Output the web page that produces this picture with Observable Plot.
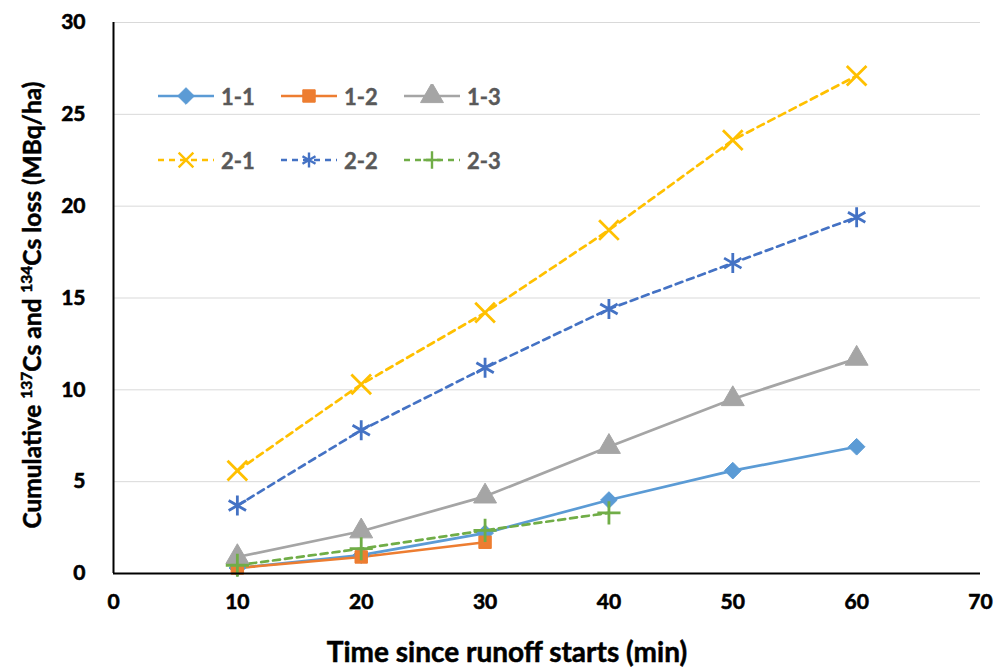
<!DOCTYPE html>
<html>
<head>
<meta charset="utf-8">
<script src="https://cdn.jsdelivr.net/npm/d3@7"></script>
<script src="https://cdn.jsdelivr.net/npm/@observablehq/plot@0.6"></script>
<style>
  html, body { margin: 0; padding: 0; background: #fff; }
  #wrap { position: relative; width: 1002px; height: 668px; font-family: Lato, "Open Sans", sans-serif; }
  #legend { position: absolute; left: 157px; top: 82px; }
  .lrow { display: flex; height: 28px; margin-bottom: 36px; }
  .litem { display: flex; align-items: center; width: 123px; }
  .litem span { font-weight: bold; font-size: 22px; color: #595959; margin-left: 6px; -webkit-text-stroke: 0.4px #595959; }
</style>
</head>
<body>
<div id="wrap"></div>
<script>
const times = [10, 20, 30, 40, 50, 60];
const seriesNames = ["1-1", "1-2", "1-3", "2-1", "2-2", "2-3"];
const s11 = [0.3, 1.0, 2.2, 4.0, 5.6, 6.9];
const s12 = [0.3, 0.9, 1.7];
const s13 = [0.9, 2.3, 4.2, 6.9, 9.5, 11.7];
const s21 = [5.6, 10.3, 14.2, 18.7, 23.6, 27.1];
const s22 = [3.7, 7.8, 11.2, 14.4, 16.9, 19.4];
const s23 = [0.45, 1.35, 2.35, 3.3];
const xTicks = [0, 10, 20, 30, 40, 50, 60, 70];
const yTicks = [0, 5, 10, 15, 20, 25, 30];

const styles = {
  "1-1": {color: "#5B9BD5", symbol: "diamond2", dash: null, r: 7.5, fill: true},
  "1-2": {color: "#ED7D31", symbol: "square", dash: null, r: 7, fill: true},
  "1-3": {color: "#A5A5A5", symbol: "triangle", dash: null, r: 8.5, fill: true},
  "2-1": {color: "#FFC000", symbol: "times", dash: "7,5", r: 9, fill: false},
  "2-2": {color: "#4472C4", symbol: "asterisk", dash: "7,5", r: 9.5, fill: false},
  "2-3": {color: "#70AD47", symbol: "plus", dash: "7,5", r: 7.5, fill: false}
};
const valuesBy = {"1-1": s11, "1-2": s12, "1-3": s13, "2-1": s21, "2-2": s22, "2-3": s23};
const rows = seriesNames.map(n => ({name: n, data: valuesBy[n].map((v, i) => ({t: times[i], v, name: n}))}));

const marks = [
  Plot.gridY(yTicks.filter(d => d > 0), {stroke: "#D9D9D9", strokeOpacity: 1, strokeWidth: 1}),
];
for (const r of rows) {
  const st = styles[r.name];
  marks.push(Plot.line(r.data, {x: "t", y: "v", stroke: st.color, strokeWidth: 2.7, strokeDasharray: st.dash}));
}
for (const r of rows) {
  const st = styles[r.name];
  marks.push(Plot.dot(r.data, {x: "t", y: "v", symbol: () => st.symbol, r: st.r,
    fill: st.fill ? st.color : "none", stroke: st.color, strokeWidth: st.fill ? 1 : 2.8}));
}
marks.push(Plot.ruleX([0], {stroke: "#000", strokeWidth: 2}));
marks.push(Plot.ruleY([0], {stroke: "#000", strokeWidth: 2}));
marks.push(Plot.text(xTicks, {x: d => d, frameAnchor: "bottom", dy: 35, text: d => String(d),
  fontSize: 21, fontWeight: "bold", fill: "#000", stroke: "#000", strokeWidth: 0.6}));
marks.push(Plot.text(yTicks, {y: d => d, frameAnchor: "left", dx: -28, textAnchor: "end", text: d => String(d),
  fontSize: 21, fontWeight: "bold", fill: "#000", stroke: "#000", strokeWidth: 0.6}));

const chart = Plot.plot({
  width: 1002, height: 668,
  marginLeft: 113, marginRight: 22, marginTop: 22, marginBottom: 95,
  style: {fontFamily: "Lato, 'Open Sans', sans-serif", background: "#fff"},
  x: {domain: [0, 70], axis: null},
  y: {domain: [0, 30], axis: null},
  symbol: {type: "identity"},
  marks
});

const svg = d3.select(chart);

svg.append("text")
  .attr("x", 507).attr("y", 662)
  .attr("text-anchor", "middle")
  .attr("font-size", 28).attr("font-weight", "bold").attr("fill", "#000")
  .attr("stroke", "#000").attr("stroke-width", 0.5)
  .text("Time since runoff starts (min)");

const yt = svg.append("text")
  .attr("transform", "translate(41,305) rotate(-90)")
  .attr("text-anchor", "middle")
  .attr("font-size", 24.5).attr("font-weight", "bold").attr("fill", "#000")
  .attr("stroke", "#000").attr("stroke-width", 0.5);
yt.append("tspan").text("Cumulative ");
yt.append("tspan").attr("font-size", 15.5).attr("dy", -9).text("137");
yt.append("tspan").attr("dy", 9).text("Cs and ");
yt.append("tspan").attr("font-size", 15.5).attr("dy", -9).text("134");
yt.append("tspan").attr("dy", 9).text("Cs loss (MBq/ha)");

const wrap = document.getElementById("wrap");
wrap.appendChild(chart);

// Legend
const legend = document.createElement("div");
legend.id = "legend";
const groups = [seriesNames.slice(0, 3), seriesNames.slice(3)];
for (const g of groups) {
  const row = document.createElement("div");
  row.className = "lrow";
  for (const n of g) {
    const st = styles[n];
    const item = document.createElement("div");
    item.className = "litem";
    const sw = d3.create("svg").attr("width", 58).attr("height", 24);
    sw.append("line").attr("x1", 1).attr("x2", 57).attr("y1", 12).attr("y2", 12)
      .attr("stroke", st.color).attr("stroke-width", 2.7)
      .attr("stroke-dasharray", st.dash ? "6,5" : null);
    const symMap = {diamond2: d3.symbolDiamond2, square: d3.symbolSquare, triangle: d3.symbolTriangle,
      times: d3.symbolTimes, asterisk: d3.symbolAsterisk, plus: d3.symbolPlus};
    const lr = st.fill ? st.r : st.r * 0.75;
    sw.append("path").attr("transform", "translate(29,12)")
      .attr("d", d3.symbol(symMap[st.symbol], Math.PI * lr * lr)())
      .attr("fill", st.fill ? st.color : "none").attr("stroke", st.color)
      .attr("stroke-width", st.fill ? 1 : 2.4);
    item.appendChild(sw.node());
    const lab = document.createElement("span");
    lab.textContent = n;
    item.appendChild(lab);
    row.appendChild(item);
  }
  legend.appendChild(row);
}
wrap.appendChild(legend);
</script>
</body>
</html>
